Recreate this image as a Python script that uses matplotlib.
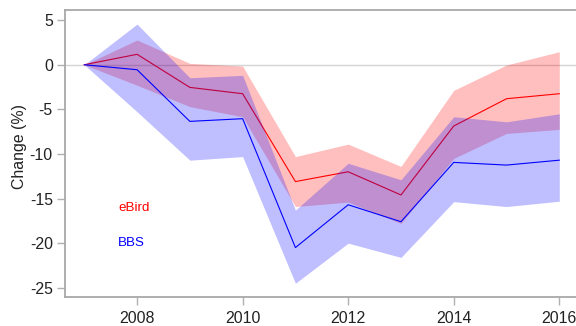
import matplotlib
matplotlib.use("Agg")
import matplotlib.pyplot as plt

plt.rcParams['font.family'] = ['Liberation Sans', 'DejaVu Sans']

years = [2007, 2008, 2009, 2010, 2011, 2012, 2013, 2014, 2015, 2016]

ebird_mean = [0, 1.17, -2.54, -3.25, -13.1, -12.0, -14.6, -6.87, -3.81, -3.25]
ebird_upper = [0, 2.77, 0.15, -0.15, -10.3, -8.9, -11.4, -2.87, -0.03, 1.46]
ebird_lower = [0, -2.3, -4.7, -5.83, -15.9, -15.4, -17.8, -10.5, -7.7, -7.25]

bbs_mean = [0, -0.56, -6.35, -6.05, -20.5, -15.7, -17.6, -10.95, -11.25, -10.7]
bbs_upper = [0, 4.56, -1.46, -1.19, -16.3, -11.05, -12.9, -5.83, -6.4, -5.5]
bbs_lower = [0, -5.27, -10.7, -10.3, -24.5, -20.0, -21.6, -15.35, -15.9, -15.3]

x_ticks = [2008, 2010, 2012, 2014, 2016]
y_ticks = [-25, -20, -15, -10, -5, 0, 5]

W, H = 576, 326
fig = plt.figure(figsize=(W / 100, H / 100), dpi=100)
ax = fig.add_axes([65.3 / W, 1 - 297 / H, (578.3 - 65.3) / W, (297 - 9.7) / H])

ax.axhline(0, color='#d4d4d4', lw=1.0, zorder=1)

ax.fill_between(years, ebird_lower, ebird_upper, color=(1, 0, 0, 0.25), lw=0, zorder=2)
ax.plot(years, ebird_mean, color='red', lw=0.8, zorder=3)
ax.fill_between(years, bbs_lower, bbs_upper, color=(0, 0, 1, 0.25), lw=0, zorder=4)
ax.plot(years, bbs_mean, color='blue', lw=0.8, zorder=5)

ax.text(2007.645, -16.37, 'eBird', color='red', fontsize=9.6, ha='left', va='baseline')
ax.text(2007.645, -20.33, 'BBS', color='blue', fontsize=9.6, ha='left', va='baseline')

ax.set_xlim(2006.64, 2016.36)
ax.set_ylim(-26.04, 6.17)
ax.set_xticks(x_ticks)
ax.set_yticks(y_ticks)
ax.set_xticklabels([str(v) for v in x_ticks])
ax.set_yticklabels([str(v) for v in y_ticks])

for s in ax.spines.values():
    s.set_color('#a8a8a8')
    s.set_linewidth(1.3)

ax.tick_params(axis='both', colors='#b0b0b0', labelcolor='#222222',
               length=5.6, width=1.0, labelsize=11.4)
ax.tick_params(axis='y', pad=3.4)
ax.tick_params(axis='x', pad=4.6)

fig.text(19.5 / W, 1 - 146 / H, 'Change (%)', rotation=90, ha='center', va='center',
         fontsize=11.4, color='#222222')

fig.savefig('out.png', dpi=100)
